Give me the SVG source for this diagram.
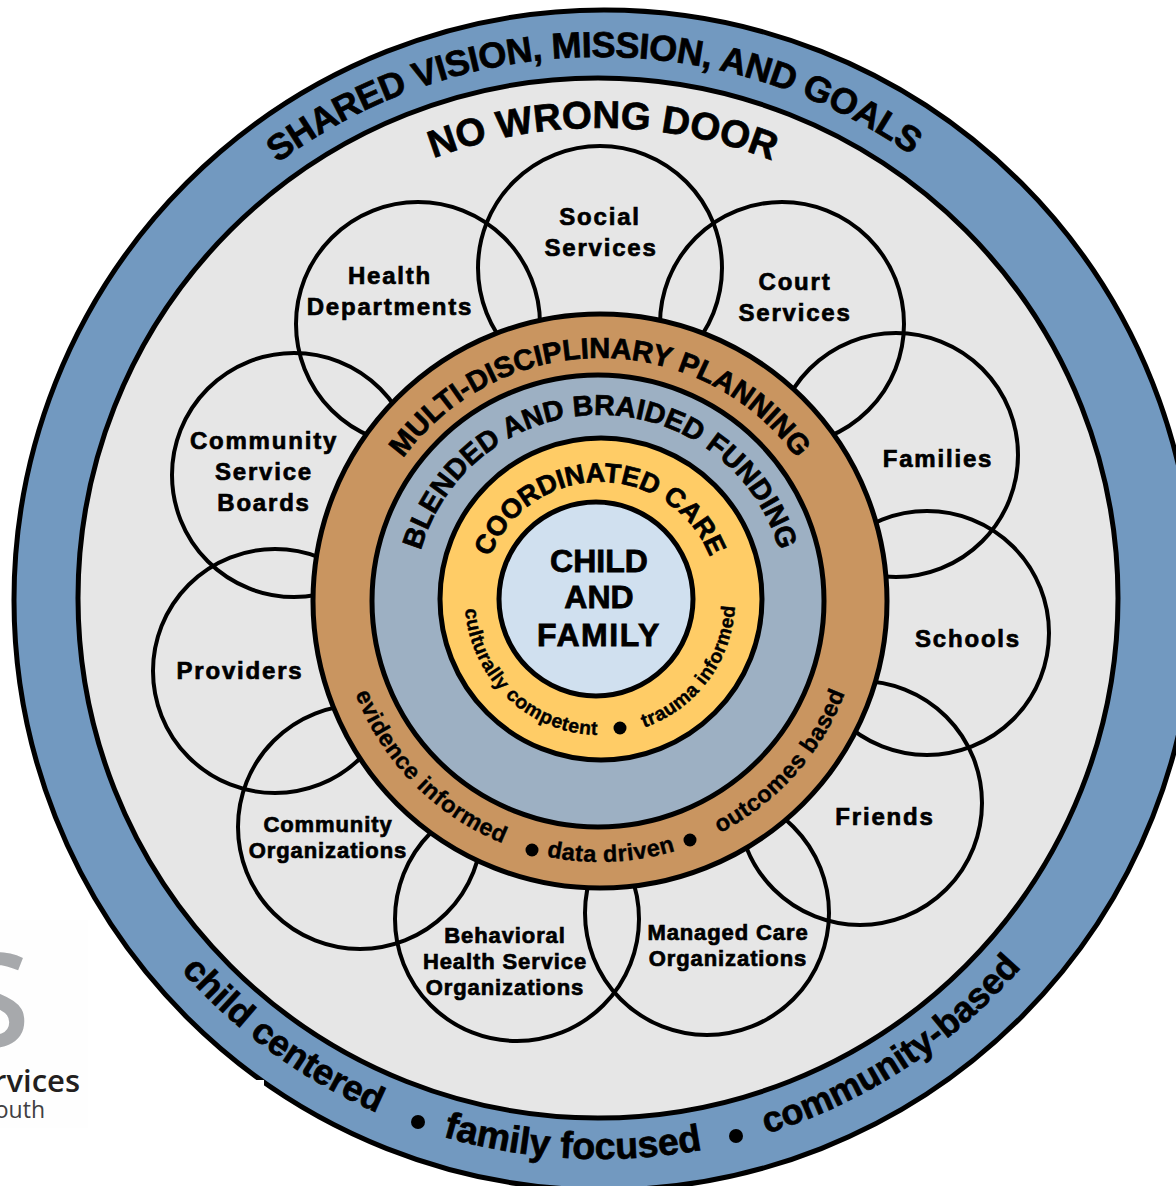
<svg xmlns="http://www.w3.org/2000/svg" width="1176" height="1186" viewBox="0 0 1176 1186">
<style>
text{font-family:"Liberation Sans",Arial,sans-serif;font-weight:700;fill:#000;stroke:#000;stroke-width:.7px}
.ring{stroke:#000;stroke-width:5}
.petal{fill:none;stroke:#000;stroke-width:4}
.p{font-size:24px;text-anchor:middle;letter-spacing:1.8px}
.s{font-size:22px;text-anchor:middle;letter-spacing:.9px}
.c{font-size:32px;text-anchor:middle;stroke-width:.8px}
.a{text-anchor:middle}
.m{stroke-width:.4px;letter-spacing:.5px}
.logo{font-family:"Open Sans","Noto Sans",sans-serif;font-weight:600;stroke:none;text-anchor:end}
</style>
<defs>
<path id="t543" d="M600 1143A543 543 0 1 1 600 57A543 543 0 1 1 600 1143"/>
<path id="t472" d="M600 1072A472 472 0 1 1 600 128A472 472 0 1 1 600 1072"/>
<path id="t243" d="M600 844A243 243 0 1 1 600 358A243 243 0 1 1 600 844"/>
<path id="t186" d="M600 787A186 186 0 1 1 600 415A186 186 0 1 1 600 787"/>
<path id="t118" d="M600 718A118 118 0 1 1 600 482A118 118 0 1 1 600 718"/>
<path id="b559" d="M600 41A559 559 0 1 0 600 1159A559 559 0 1 0 600 41"/>
<path id="b262" d="M600 338A262 262 0 1 0 600 862A262 262 0 1 0 600 338"/>
<path id="b135" d="M600 465A135 135 0 1 0 600 735A135 135 0 1 0 600 465"/>
</defs>
<rect width="1176" height="1186" fill="#fff"/>
<g id="logo-fragment">
<rect x="0" y="920" width="88" height="208" fill="#fefefe"/>
<text class="logo" x="30" y="1047" font-size="130" style="fill:#a7a9ac">S</text>
<text class="logo" x="80" y="1092" font-size="31" style="fill:#231f20">rvices</text>
<text class="logo" x="45" y="1118" font-size="23" style="fill:#414042;font-weight:400">youth</text>
</g>
<g id="outer-ring">
<circle class="ring" cx="604" cy="600" r="590" fill="#7299c0"/>
<rect x="90" y="1080" width="174" height="106" fill="#fff"/>
<text font-size="36"><textPath href="#t543" startOffset="49.8%" class="a" textLength="677" lengthAdjust="spacing">SHARED VISION, MISSION, AND GOALS</textPath></text>
<text font-size="36"><textPath href="#b559" startOffset="40%" class="a">child centered</textPath></text>
<circle cx="418" cy="1122" r="7"/>
<text font-size="37.5"><textPath href="#b559" startOffset="49.2%" class="a">family focused</textPath></text>
<circle cx="736" cy="1136" r="7"/>
<text font-size="36"><textPath href="#b559" startOffset="59.2%" class="a">community-based</textPath></text>
</g>
<g id="no-wrong-door">
<circle class="ring" cx="598" cy="598" r="520" fill="#e6e6e6"/>
<text font-size="38.5"><textPath href="#t472" startOffset="50.1%" class="a">NO WRONG DOOR</textPath></text>
</g>
<g id="connectors"></g>
<g id="node-social"><circle class="petal" cx="600" cy="268" r="122"/><text class="p" x="600" y="225">Social</text><text class="p" x="601" y="256">Services</text></g>
<g id="node-health"><circle class="petal" cx="418" cy="324" r="122"/><text class="p" x="390" y="284">Health</text><text class="p" x="390" y="315">Departments</text></g>
<g id="node-court"><circle class="petal" cx="782" cy="324" r="122"/><text class="p" x="795" y="290">Court</text><text class="p" x="795" y="321">Services</text></g>
<g id="node-families"><circle class="petal" cx="896" cy="455" r="122"/><text class="p" x="938" y="467">Families</text></g>
<g id="node-schools"><circle class="petal" cx="927" cy="633" r="122"/><text class="p" x="968" y="647">Schools</text></g>
<g id="node-friends"><circle class="petal" cx="860" cy="803" r="122"/><text class="p" x="885" y="825">Friends</text></g>
<g id="node-managed"><circle class="petal" cx="707" cy="913" r="122"/><text class="s" x="728" y="940">Managed Care</text><text class="s" x="728" y="966">Organizations</text></g>
<g id="node-behavioral"><circle class="petal" cx="517" cy="919" r="122"/><text class="s" x="505" y="943">Behavioral</text><text class="s" x="505" y="969">Health Service</text><text class="s" x="505" y="995">Organizations</text></g>
<g id="node-community-orgs"><circle class="petal" cx="360" cy="827" r="122"/><text class="s" x="328" y="832">Community</text><text class="s" x="328" y="858">Organizations</text></g>
<g id="node-providers"><circle class="petal" cx="275" cy="671" r="122"/><text class="p" x="240" y="679">Providers</text></g>
<g id="node-csb"><circle class="petal" cx="294" cy="475" r="122"/><text class="p" x="264" y="449">Community</text><text class="p" x="264" y="480">Service</text><text class="p" x="264" y="511">Boards</text></g>
<g id="ring-planning">
<circle class="ring" cx="600" cy="601" r="287" fill="#c99560"/>
<text font-size="29"><textPath href="#t243" startOffset="50%" class="a">MULTI-DISCIPLINARY PLANNING</textPath></text>
<text font-size="23.5" class="m"><textPath href="#b262" startOffset="37.4%" class="a">evidence informed</textPath></text>
<circle cx="532" cy="850" r="6.5"/>
<text font-size="23.5" class="m"><textPath href="#b262" startOffset="50.7%" class="a">data driven</textPath></text>
<circle cx="690" cy="840" r="6.5"/>
<text font-size="23.5" class="m"><textPath href="#b262" startOffset="63.4%" class="a">outcomes based</textPath></text>
</g>
<g id="ring-funding">
<circle class="ring" cx="598" cy="601" r="226" fill="#9db0c3"/>
<text font-size="28.5"><textPath href="#t186" startOffset="50%" class="a">BLENDED AND BRAIDED FUNDING</textPath></text>
</g>
<g id="ring-care">
<circle class="ring" cx="601" cy="599" r="161" fill="#ffcc66"/>
<text font-size="27"><textPath href="#t118" startOffset="50%" class="a">COORDINATED CARE</textPath></text>
<text font-size="19.5" class="m"><textPath href="#b135" startOffset="37.9%" class="a">culturally competent</textPath></text>
<circle cx="620" cy="728" r="6.5"/>
<text font-size="19.5" class="m"><textPath href="#b135" startOffset="64.8%" class="a">trauma informed</textPath></text>
</g>
<g id="node-child-family">
<circle class="ring" cx="596" cy="599" r="97" fill="#d0e0ef"/>
<text class="c" x="599" y="572">CHILD</text><text class="c" x="599" y="608">AND</text><text class="c" x="599" y="646" style="letter-spacing:1.6px">FAMILY</text>
</g>
</svg>
